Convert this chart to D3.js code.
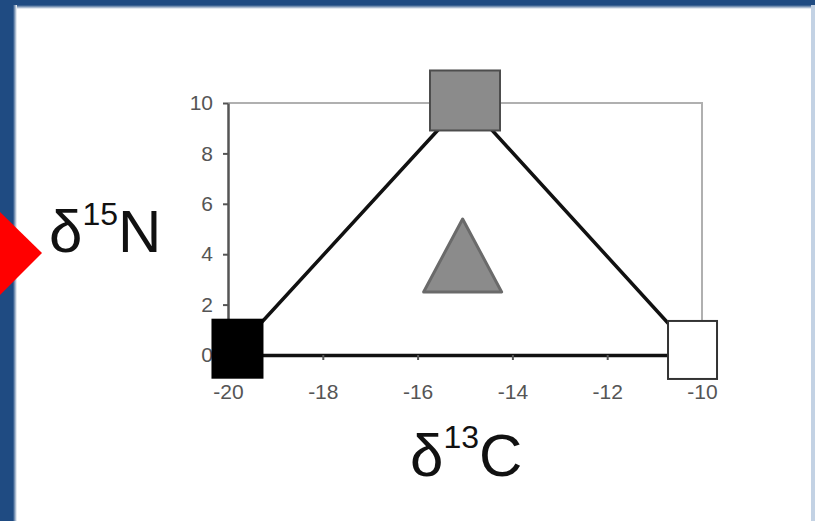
<!DOCTYPE html>
<html>
<head>
<meta charset="utf-8">
<script src="https://cdn.jsdelivr.net/npm/d3@7"></script>
<style>
  html, body { margin: 0; padding: 0; background: #ffffff; }
  svg { display: block; }
  text { font-family: "Liberation Sans", Arial, sans-serif; }
</style>
</head>
<body>
<svg id="chart" width="815" height="521"></svg>
<script>
// Isotope end-members (δ13C, δ15N) joined in order, plus the mixture point
const sources = ["Black", "Gray", "White"];
const d13C = [-19.8, -15.0, -10.2];
const d15N = [0.25, 10.1, 0.2];
const mixture = { d13C: -15.05, d15N: 3.95 };

const xTicks = [-20, -18, -16, -14, -12, -10];
const yTicks = [0, 2, 4, 6, 8, 10];

const svg = d3.select("#chart");
const W = 815, H = 521;

// slide frame: dark blue band on the left and top, pale edge on the right
const defs = svg.append("defs");
const gl = defs.append("linearGradient").attr("id", "fadeL").attr("x1", 0).attr("x2", 1).attr("y1", 0).attr("y2", 0);
gl.append("stop").attr("offset", 0).attr("stop-color", "#1f4b82");
gl.append("stop").attr("offset", 1).attr("stop-color", "#ffffff");
const gt = defs.append("linearGradient").attr("id", "fadeT").attr("x1", 0).attr("x2", 0).attr("y1", 0).attr("y2", 1);
gt.append("stop").attr("offset", 0).attr("stop-color", "#1f4b82");
gt.append("stop").attr("offset", 1).attr("stop-color", "#ffffff");

svg.append("rect").attr("x", 0).attr("y", 0).attr("width", W).attr("height", H).attr("fill", "#ffffff");
svg.append("rect").attr("x", 0).attr("y", 0).attr("width", W).attr("height", 5).attr("fill", "#1f4b82");
svg.append("rect").attr("x", 0).attr("y", 5).attr("width", W).attr("height", 4).attr("fill", "url(#fadeT)");
svg.append("rect").attr("x", 0).attr("y", 0).attr("width", 13).attr("height", H).attr("fill", "#1f4b82");
svg.append("rect").attr("x", 13).attr("y", 5).attr("width", 4).attr("height", H).attr("fill", "url(#fadeL)");
svg.append("rect").attr("x", 811).attr("y", 5).attr("width", 4).attr("height", H).attr("fill", "#c3d2e4");

// red pointer arrow
svg.append("polygon")
  .attr("points", "0,212 42,253 0,295")
  .attr("fill", "#ff0000");

// scales
const x = d3.scaleLinear().domain([-20, -10]).range([228, 702]);
const y = d3.scaleLinear().domain([0, 10]).range([355, 103]);

// plot frame (top and right)
svg.append("path")
  .attr("d", `M${x(-20)},${y(10)}H${x(-10)}V${y(0)}`)
  .attr("fill", "none").attr("stroke", "#b0b0b0").attr("stroke-width", 2);

const fmt = d => String(d);

// y axis
const yAxis = svg.append("g")
  .attr("transform", `translate(${x(-20)},0)`)
  .call(d3.axisLeft(y).tickValues(yTicks).tickFormat(fmt).tickSize(5).tickPadding(10).tickSizeOuter(0));
yAxis.select(".domain").attr("stroke", "#555").attr("stroke-width", 2.5);
yAxis.selectAll(".tick line").attr("stroke", "#555").attr("stroke-width", 2);
yAxis.selectAll(".tick text")
  .attr("font-size", 21).attr("font-family", "Liberation Sans, Arial, sans-serif")
  .attr("fill", "#555");

// x axis
const xAxis = svg.append("g")
  .attr("transform", `translate(0,${y(0)})`)
  .call(d3.axisBottom(x).tickValues(xTicks).tickFormat(fmt).tickSize(5).tickPadding(24).tickSizeOuter(0));
xAxis.select(".domain").attr("stroke", "#111").attr("stroke-width", 3.5);
xAxis.selectAll(".tick line").attr("stroke", "#555").attr("stroke-width", 2);
xAxis.selectAll(".tick text")
  .attr("font-size", 21).attr("font-family", "Liberation Sans, Arial, sans-serif")
  .attr("fill", "#555");

// mixing lines between sources
const pts = sources.map((s, i) => ({ name: s, cx: d13C[i], cy: d15N[i] }));
svg.append("path")
  .datum(pts)
  .attr("d", d3.line().x(d => x(d.cx)).y(d => y(d.cy)))
  .attr("fill", "none").attr("stroke", "#111").attr("stroke-width", 3.5)
  .attr("stroke-linejoin", "round");

// source markers
const markerStyle = {
  Black: { fill: "#000000", stroke: "#000000", w: 50, h: 58 },
  Gray:  { fill: "#8b8b8b", stroke: "#4d4d4d", w: 70, h: 60 },
  White: { fill: "#ffffff", stroke: "#333333", w: 49, h: 58 }
};
svg.selectAll("rect.src")
  .data(pts)
  .join("rect")
  .attr("class", "src")
  .attr("x", d => x(d.cx) - markerStyle[d.name].w / 2)
  .attr("y", d => y(d.cy) - markerStyle[d.name].h / 2)
  .attr("width", d => markerStyle[d.name].w)
  .attr("height", d => markerStyle[d.name].h)
  .attr("fill", d => markerStyle[d.name].fill)
  .attr("stroke", d => markerStyle[d.name].stroke)
  .attr("stroke-width", 2);

// mixture marker (triangle)
const mx = x(mixture.d13C), my = y(mixture.d15N);
const tw = 78, th = 73;
svg.append("polygon")
  .attr("points", [[mx, my - th / 2], [mx + tw / 2, my + th / 2], [mx - tw / 2, my + th / 2]].map(p => p.join(",")).join(" "))
  .attr("fill", "#8b8b8b").attr("stroke", "#6a6a6a").attr("stroke-width", 3)
  .attr("stroke-linejoin", "round");

// axis titles
const t1 = svg.append("text").attr("x", 49).attr("y", 252).attr("font-size", 60).attr("fill", "#111");
t1.append("tspan").text("δ");
t1.append("tspan").attr("font-size", 32).attr("dy", -27).text("15");
t1.append("tspan").attr("dy", 27).text("N");

const t2 = svg.append("text").attr("x", 410).attr("y", 476).attr("font-size", 60).attr("fill", "#111");
t2.append("tspan").text("δ");
t2.append("tspan").attr("font-size", 32).attr("dy", -28).text("13");
t2.append("tspan").attr("dy", 28).text("C");
</script>
</body>
</html>
